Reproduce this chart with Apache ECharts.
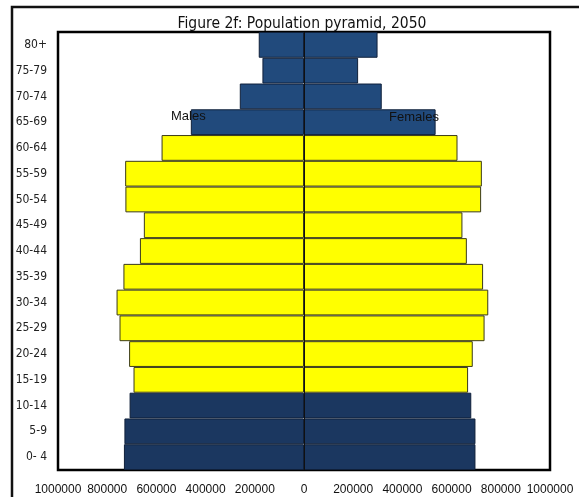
<!DOCTYPE html>
<html>
<head>
<meta charset="utf-8">
<script src="https://cdn.jsdelivr.net/npm/echarts@6/dist/echarts.min.js"></script>
<style>
  html, body { margin: 0; padding: 0; background: #fff; }
  #chart { width: 579px; height: 497px; }
</style>
</head>
<body>
<div id="chart"></div>
<script>
// Age groups, youngest at the bottom
const ageGroups = ['0- 4', '5-9', '10-14', '15-19', '20-24', '25-29', '30-34', '35-39',
  '40-44', '45-49', '50-54', '55-59', '60-64', '65-69', '70-74', '75-79', '80+'];

// Projected population by age group, 2050
const males = [732000, 730000, 709000, 693000, 711000, 750000, 762000, 734000,
  667000, 651000, 726000, 727000, 579000, 460000, 261000, 169000, 184000];
const females = [697000, 697000, 680000, 667000, 686000, 734000, 749000, 728000,
  662000, 644000, 720000, 723000, 624000, 535000, 316000, 220000, 299000];

const xTicks = [-1000000, 1000000, 200000];

const NARROW = "'Liberation Sans Narrow', 'DejaVu Sans Condensed', sans-serif";
const REGULAR = "'Liberation Sans', Arial, sans-serif";

// Working-age groups (15-64) in yellow, dependants in dark blue
function groupColor(i) {
  if (i < 3) return '#1B3760';
  if (i >= 13) return '#214A7C';
  return '#FFFF00';
}

function styled(values, sign) {
  return values.map((v, i) => ({
    value: sign * v,
    itemStyle: {
      color: groupColor(i),
      borderColor: groupColor(i) === '#FFFF00' ? '#3a3a1a' : '#10203a',
      borderWidth: 1
    }
  }));
}

const chart = echarts.init(document.getElementById('chart'), null, { renderer: 'canvas' });

chart.setOption({
  backgroundColor: '#ffffff',
  animation: false,
  title: {
    text: 'Figure 2f: Population pyramid, 2050',
    left: 297,
    textAlign: 'center',
    top: 11,
    textStyle: { fontFamily: NARROW, fontSize: 15.5, fontWeight: 'normal', color: '#111' }
  },
  grid: {
    left: 58, right: 29, top: 32, bottom: 27,
    show: true, borderColor: '#000', borderWidth: 2.5, backgroundColor: 'transparent'
  },
  xAxis: {
    type: 'value',
    min: xTicks[0], max: xTicks[1], interval: xTicks[2],
    axisLine: { show: false },
    axisTick: { show: false },
    splitLine: { show: false },
    axisLabel: {
      margin: 14,
      fontFamily: REGULAR, fontSize: 12, color: '#111',
      showMinLabel: true, showMaxLabel: true,
      formatter: v => String(Math.abs(v))
    }
  },
  yAxis: {
    type: 'category',
    data: ageGroups,
    axisLine: { show: false, onZero: false },
    axisTick: { show: false },
    axisLabel: { margin: 11, fontFamily: NARROW, fontSize: 12, color: '#222' }
  },
  series: [
    {
      name: 'Males',
      type: 'bar',
      barCategoryGap: 0,
      barGap: '-100%',
      data: styled(males, -1)
    },
    {
      name: 'Females',
      type: 'bar',
      barCategoryGap: 0,
      barGap: '-100%',
      data: styled(females, 1),
      markLine: {
        silent: true,
        symbol: 'none',
        label: { show: false },
        lineStyle: { color: '#111', width: 1, type: 'solid' },
        data: [{ xAxis: 0 }]
      }
    }
  ]
});

// Outer frame and the Males / Females captions beside the 65-69 row
const malePos = chart.convertToPixel({ gridIndex: 0 }, [-470000, '65-69']);
const femalePos = chart.convertToPixel({ gridIndex: 0 }, [447000, '65-69']);
chart.setOption({
  graphic: [
    {
      type: 'rect',
      shape: { x: 12, y: 7, width: 700, height: 700 },
      style: { fill: 'none', stroke: '#111', lineWidth: 2.5 },
      silent: true
    },
    {
      type: 'text', x: malePos[0], y: malePos[1] - 6,
      style: { text: 'Males', fontFamily: REGULAR, fontSize: 13, fill: '#111',
        align: 'center', verticalAlign: 'middle' },
      z: 10
    },
    {
      type: 'text', x: femalePos[0], y: femalePos[1] - 5,
      style: { text: 'Females', fontFamily: REGULAR, fontSize: 13, fill: '#111',
        align: 'center', verticalAlign: 'middle' },
      z: 10
    }
  ]
});
</script>
</body>
</html>
